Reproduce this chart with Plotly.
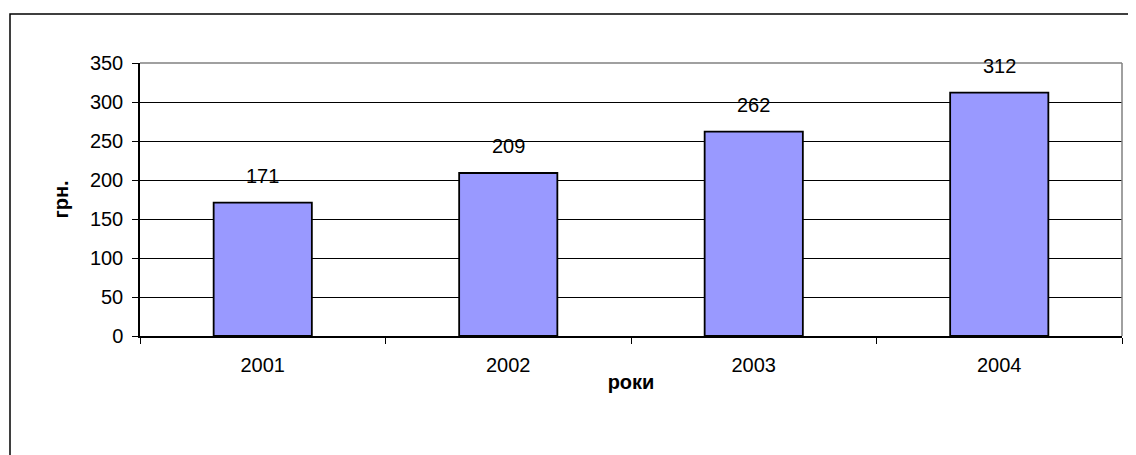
import plotly.graph_objects as go

years = ["2001", "2002", "2003", "2004"]
values = [171, 209, 262, 312]
y_ticks = [0, 50, 100, 150, 200, 250, 300, 350]

# page has an 8px body margin; compensate so the plot lands where the reference has it
OFF = 8
W, H = 1136, 455
L, R, T, B = 140 - OFF, 14 + OFF, 63 - OFF, 119 + OFF
pw, ph = W - L - R, H - T - B
FONT = "Liberation Sans, Arial, sans-serif"
FS = 20

fig = go.Figure(go.Bar(
    x=years, y=values,
    marker=dict(color="#9999FF", line=dict(color="#000000", width=1.8)),
    width=0.4,
    textposition="none",
))

for i, v in enumerate(values):
    fig.add_annotation(x=i, y=v, text=str(v), showarrow=False,
                       xref="x", yref="y",
                       yshift=27, font=dict(size=FS, color="#000", family=FONT))

def px_x(p):  # page pixel -> paper
    return (p - OFF - L) / pw

def px_y(p):
    return (H - B - (p - OFF)) / ph

# outer chart border
fig.add_shape(type="rect", xref="paper", yref="paper",
              x0=px_x(10), x1=px_x(1150), y0=px_y(470), y1=px_y(14),
              line=dict(color="#000", width=1.5), layer="below")
# plot area top/right border (gray)
fig.add_shape(type="line", xref="paper", yref="paper", x0=0, x1=1, y0=1, y1=1,
              line=dict(color="#808080", width=1.5))
fig.add_shape(type="line", xref="paper", yref="paper", x0=1, x1=1, y0=0, y1=1,
              line=dict(color="#808080", width=1.5))

fig.update_layout(
    width=W, height=H,
    margin=dict(l=L, r=R, t=T, b=B),
    paper_bgcolor="white", plot_bgcolor="white",
    showlegend=False,
    font=dict(family=FONT, size=FS, color="#000"),
    xaxis=dict(
        type="category",
        categoryorder="array", categoryarray=years,
        range=[-0.5, 3.5], autorange=False,
        showline=True, linecolor="#000", linewidth=1.5,
        ticks="outside", ticklen=6, tickcolor="#000", tickson="boundaries",
        ticklabelstandoff=10, tickangle=0,
        showgrid=False, automargin=False,
        title=dict(text="<b>роки</b>", standoff=0, font=dict(size=FS)),
    ),
    yaxis=dict(
        range=[0, 350], autorange=False, tickvals=y_ticks,
        showline=True, linecolor="#000", linewidth=1.5,
        ticks="outside", ticklen=6, tickcolor="#000",
        ticklabelstandoff=5, automargin=False,
        showgrid=True, gridcolor="#000", gridwidth=1,
        zeroline=False,
        title=dict(text="<b>грн.</b>", standoff=16, font=dict(size=FS)),
    ),
)

fig.write_html("out.html")
